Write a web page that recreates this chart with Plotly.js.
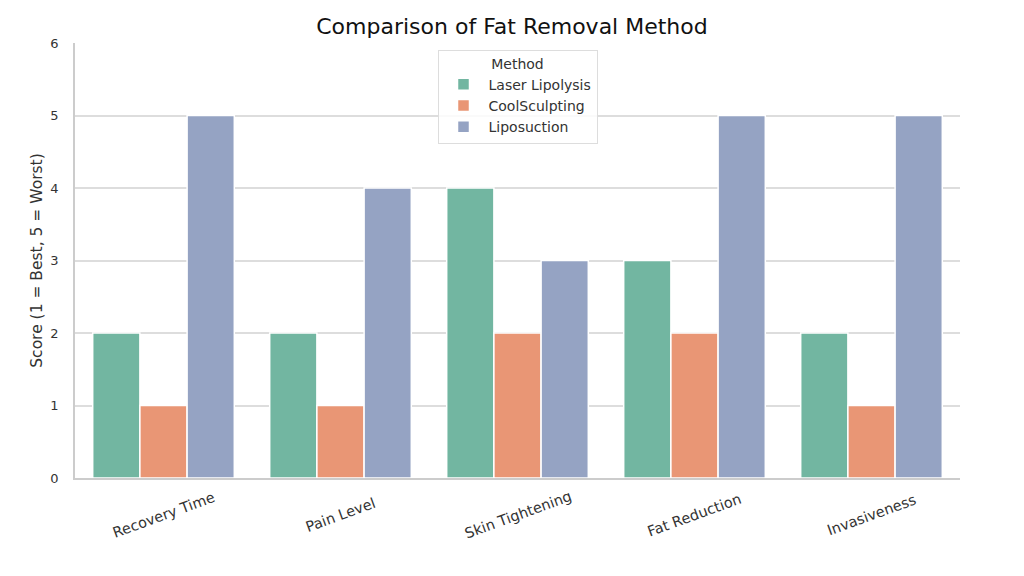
<!DOCTYPE html>
<html><head><meta charset="utf-8">
<script src="https://cdn.plot.ly/plotly-3.0.1.min.js"></script>
<style>body{margin:0;background:#fff}#chart{width:1024px;height:576px}</style>
</head><body><div id="chart"></div>
<script>
const categories = ["Recovery Time", "Pain Level", "Skin Tightening", "Fat Reduction", "Invasiveness"];
const methods = ["Laser Lipolysis", "CoolSculpting", "Liposuction"];
const laserLipolysis = [2, 2, 4, 3, 2];
const coolSculpting = [1, 1, 2, 2, 1];
const liposuction = [5, 4, 3, 5, 5];
const yTicks = [0, 1, 2, 3, 4, 5, 6];
const colors = ["#72b6a1", "#e99675", "#95a3c3"];
const seriesValues = [laserLipolysis, coolSculpting, liposuction];

const traces = methods.map((m, i) => ({
  type: "bar", name: m, x: categories, y: seriesValues[i],
  marker: {color: colors[i], line: {color: "#ffffff", width: 1.5}},
  hoverinfo: "x+y+name"
}));

const tickAnnotations = categories.map(c => ({
  x: c, xref: "x", y: 0, yref: "paper", yanchor: "middle", xanchor: "center",
  yshift: -37, text: c, textangle: -20, showarrow: false,
  font: {size: 14.5, color: "#333"}
}));

const layout = {
  width: 1024, height: 576,
  paper_bgcolor: "#fff", plot_bgcolor: "#fff",
  font: {family: "DejaVu Sans, sans-serif", color: "#333"},
  margin: {l: 75, r: 64, t: 43, b: 98},
  title: {text: "Comparison of Fat Removal Method", x: 0.5, xanchor: "center", y: 0.955, yanchor: "middle",
          font: {family: "DejaVu Sans, sans-serif", size: 22, color: "#111"}},
  barmode: "group", bargap: 0.2, bargroupgap: 0,
  xaxis: {showticklabels: false, showgrid: false,
          showline: true, linecolor: "#cccccc", linewidth: 1.5, ticks: "", automargin: false},
  yaxis: {range: [0, 6], tickvals: yTicks, ticktext: yTicks.map(String), tickfont: {size: 13, color: "#333"},
          showgrid: true, gridcolor: "#dddddd", gridwidth: 1.5, zeroline: false,
          showline: true, linecolor: "#cccccc", linewidth: 1.5, ticks: "", ticklabelstandoff: 12,
          title: {text: "Score (1 = Best, 5 = Worst)", font: {size: 15.5, color: "#333"}, standoff: 4}, automargin: false},
  annotations: tickAnnotations,
  legend: {title: {text: "Method", font: {size: 14, color: "#333"}, side: "top center"},
           x: 0.5, xanchor: "center", y: 0.985, yanchor: "top",
           bgcolor: "rgba(255,255,255,0.85)", bordercolor: "#dddddd", borderwidth: 1,
           font: {size: 14, color: "#333"}, itemwidth: 40, tracegroupgap: 2},
  showlegend: true
};
Plotly.newPlot("chart", traces, layout, {displayModeBar: false});
</script></body></html>
